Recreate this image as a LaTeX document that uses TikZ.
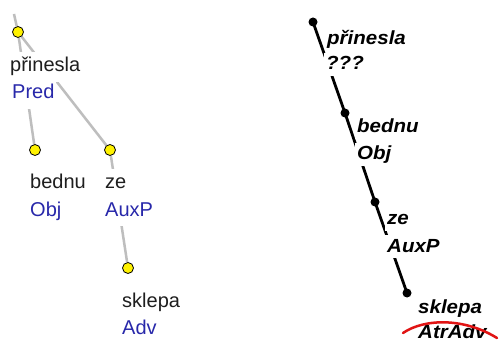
\documentclass[tikz,border=0pt]{standalone}
\usepackage{fontspec}
\setmainfont{Liberation Sans}
\newfontfamily\rfont[FakeStretch=1.08]{Liberation Sans}
\usetikzlibrary{backgrounds}
\definecolor{edgegray}{RGB}{190,190,190}
\definecolor{tagblue}{RGB}{40,40,170}
\definecolor{wordblack}{RGB}{30,30,30}
\definecolor{markred}{RGB}{225,20,20}
\begin{document}
\begin{tikzpicture}[x=1pt,y=-1pt,
 ydot/.style={circle,draw=black,line width=0.8pt,fill=yellow,minimum size=11pt,inner sep=0pt},
 bdot/.style={circle,fill=black,minimum size=9pt,inner sep=0pt},
 gedge/.style={draw=edgegray,line width=2.5pt},
 bedge/.style={draw=black,line width=2.8pt},
 lword/.style={anchor=base west,font=\fontsize{20}{24}\selectfont,text=wordblack,fill=white,inner xsep=2pt,inner ysep=0pt,text height=20pt,text depth=10pt},
 ltag/.style={lword,text=tagblue},
 rword/.style={anchor=base west,font=\rfont\bfseries\itshape\fontsize{19}{23}\selectfont,text=black,fill=white,inner xsep=2pt,inner ysep=0pt,text height=17pt,text depth=6pt},
 redmark/.style={draw=markred,line width=2.5pt,line cap=round}
]
\useasboundingbox (0,0) rectangle (501,342);
% left tree
\node[ydot] (r) at (18,32) {};
\node[ydot] (b) at (35,150) {};
\node[ydot] (z) at (110,150) {};
\node[ydot] (s) at (128,268) {};
\coordinate (top) at (14,14);
% right tree dots
\node[bdot] (R) at (313,22) {};
\node[bdot] (B) at (345,113) {};
\node[bdot] (Z) at (375,202) {};
\node[bdot] (S) at (407,293) {};
\begin{scope}[on background layer]
\fill[white] (0,0) rectangle (501,342);
\draw[gedge] (top) -- (r);
\draw[gedge] (r) -- (b);
\draw[gedge] (r) -- (z);
\draw[gedge] (z) -- (s);
\draw[bedge] (R.center) -- (B.center);
\draw[bedge] (B.center) -- (Z.center);
\draw[bedge] (Z.center) -- (S.center);
\end{scope}
\node[lword] (w1) at (8,72) {přinesla};
\node[ltag] (t1) at (10,99) {Pred};
\node[lword] (w2) at (28,189) {bednu};
\node[ltag] (t2) at (28,216) {Obj};
\node[lword] (w3) at (103,189) {ze};
\node[ltag] (t3) at (103,216) {AuxP};
\node[lword] (w4) at (120,307) {sklepa};
\node[ltag] (t4) at (120,334) {Adv};
\node[rword] (W1) at (325,45) {přinesla};
\node[rword] (T1) at (324,70) {???};
\node[rword] (W2) at (355,133) {bednu};
\node[rword] (T2) at (355,160) {Obj};
\node[rword] (W3) at (385,225) {ze};
\node[rword] (T3) at (385,252) {AuxP};
\node[rword] (W4) at (416,313) {sklepa};
\node[rword] (T4) at (416,338) {AtrAdv};
\coordinate (m1) at (403,333);
\coordinate (m2) at (497,338);
\draw[redmark] (m1) .. controls (425,318) and (465,318) .. (m2);
\end{tikzpicture}
\end{document}
